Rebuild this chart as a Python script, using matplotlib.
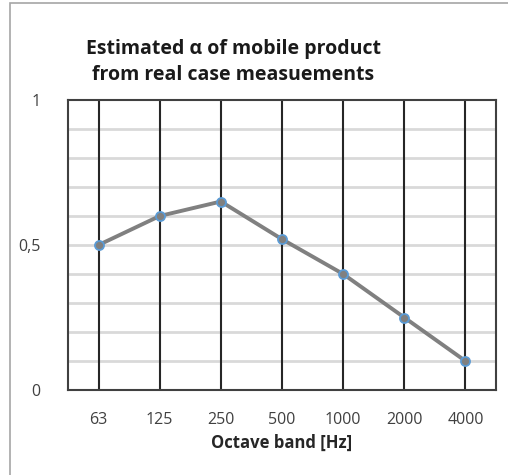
import matplotlib
matplotlib.use("Agg")
import matplotlib.pyplot as plt
from matplotlib.patches import Rectangle

# data
bands = ["63", "125", "250", "500", "1000", "2000", "4000"]
alpha = [0.50, 0.60, 0.65, 0.52, 0.40, 0.25, 0.10]
y_ticks = [0, 0.5, 1]
y_tick_labels = ["0", "0,5", "1"]
y_minor = [0.1, 0.2, 0.3, 0.4, 0.6, 0.7, 0.8, 0.9]

plt.rcParams["font.family"] = ["Open Sans", "DejaVu Sans"]

fig = plt.figure(figsize=(5.08, 4.75), dpi=100)
fig.patch.set_facecolor("white")

# outer grey frame of the chart object
fig.add_artist(Rectangle((10 / 508, -0.05), 1.2, 1 - 3 / 475 + 0.05,
                         transform=fig.transFigure, fill=False,
                         edgecolor="#a6a6a6", linewidth=1.2))

ax = fig.add_axes([68 / 508, 85 / 475, 428 / 508, 290 / 475])
x = list(range(len(bands)))

# light horizontal grid
for v in y_minor + [0.5]:
    ax.axhline(v, color="#d9d9d9", linewidth=2, zorder=1)
# dark vertical lines at each band
for xi in x:
    ax.axvline(xi, color="#262626", linewidth=1.5, zorder=2)

ax.plot(x, alpha, color="#808080", linewidth=2.8, zorder=3,
        marker="o", markersize=6.5, markerfacecolor="#808080",
        markeredgecolor="#5b9bd5", markeredgewidth=1.3)

ax.set_xlim(-0.5, len(bands) - 0.5)
ax.set_ylim(0, 1)
ax.set_xticks(x)
ax.set_xticklabels(bands)
ax.set_yticks(y_ticks)
ax.set_yticklabels(y_tick_labels)
ax.tick_params(length=0, labelsize=11.5, colors="#404040")
ax.tick_params(axis="y", pad=20)
ax.tick_params(axis="x", pad=16)
for s in ax.spines.values():
    s.set_color("#404040")
    s.set_linewidth(1.5)

ax.set_xlabel("Octave band [Hz]", fontsize=12, fontweight="bold",
              color="#262626", labelpad=4)

fig.text(233 / 508, 1 - 62 / 475,
         "Estimated \u03b1 of mobile product\nfrom real case measuements",
         ha="center", va="center", fontsize=14, fontweight="bold",
         color="#1a1a1a", linespacing=1.35)

fig.savefig("out.png", dpi=100)
